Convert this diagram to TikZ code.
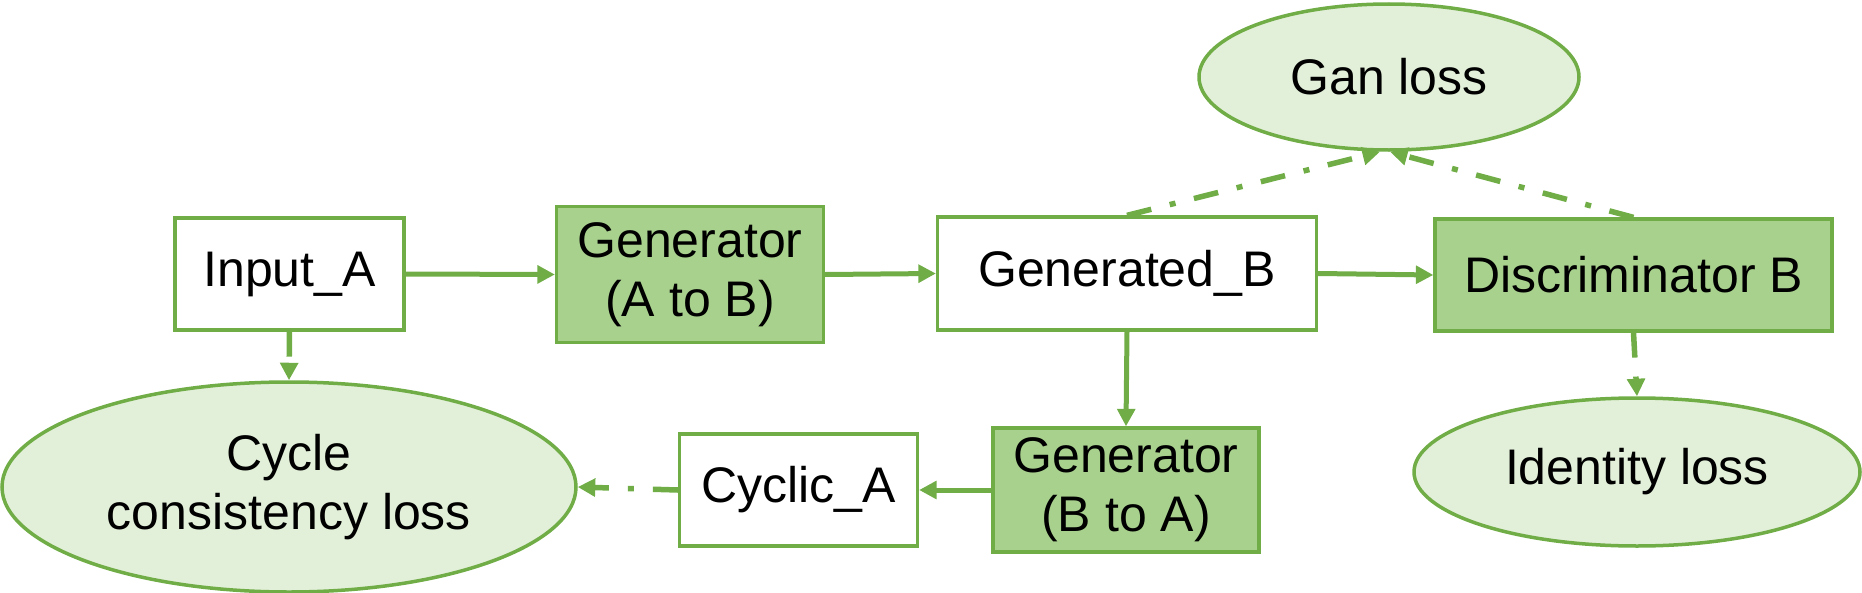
\documentclass[tikz,border=0pt]{standalone}
\usepackage{fontspec}
\setmainfont{Liberation Sans}
\usetikzlibrary{arrows.meta,shapes.geometric}
\definecolor{gline}{HTML}{70AD47}
\definecolor{gdark}{HTML}{A9D18E}
\definecolor{glight}{HTML}{E2F0D9}
\begin{document}
\begin{tikzpicture}[x=0.4pt,y=-0.4pt,
  lbl/.style={font=\fontsize{20}{23.5}\selectfont,align=center,inner sep=0pt},
  box/.style={lbl,draw=gline,line width=1.3pt,fill=white},
  darkbox/.style={box,fill=gdark},
  loss/.style={lbl,ellipse,draw=gline,line width=1.4pt,fill=glight},
  arr/.style={draw=gline,line width=2pt,-{Triangle[length=7pt,width=7pt]}},
  dd/.style={arr,line width=2.2pt,dash pattern=on 10pt off 7.6pt on 2.4pt off 7.6pt}]
\useasboundingbox (0,0) rectangle (1862,593);

\node[loss,minimum width=152pt,minimum height=58.4pt] (gan) at (1389,77) {Gan loss};
\node[box,minimum width=91.6pt,minimum height=44.8pt] (inp) at (289.5,274) {Input\_A};
\node[darkbox,minimum width=106.8pt,minimum height=54.4pt] (gab) at (690,274.5) {Generator\\(A to B)};
\node[box,minimum width=151.6pt,minimum height=45.2pt] (genb) at (1127,273.5) {Generated\_B};
\node[darkbox,minimum width=158.8pt,minimum height=44.8pt] (disc) at (1633.5,275) {Discriminator B};
\node[darkbox,minimum width=106.4pt,minimum height=49.6pt] (gba) at (1126,490) {Generator\\(B to A)};
\node[box,minimum width=95.2pt,minimum height=44.8pt] (cyc) at (798.5,490) {Cyclic\_A};
\node[loss,minimum width=229.6pt,minimum height=84pt] (cons) at (289,487) {Cycle\\consistency loss};
\node[loss,minimum width=178.4pt,minimum height=59.2pt] (ident) at (1637,472) {Identity loss};

\draw[arr] (inp.east) -- (gab.west);
\draw[arr] (gab.east) -- (genb.west);
\draw[arr] (genb.east) -- (disc.west);
\draw[arr] (genb.south) -- (gba.north);
\draw[arr] (gba.west) -- (cyc.east);
\draw[dd] (cyc.west) -- (cons.east);
\draw[dd] (inp.south) -- (cons.north);
\draw[dd] (disc.south) -- (ident.north);
\draw[dd] (genb.north) -- ([xshift=-3.6pt]gan.south);
\draw[dd] (disc.north) -- ([xshift=0.4pt]gan.south);
\end{tikzpicture}
\end{document}
